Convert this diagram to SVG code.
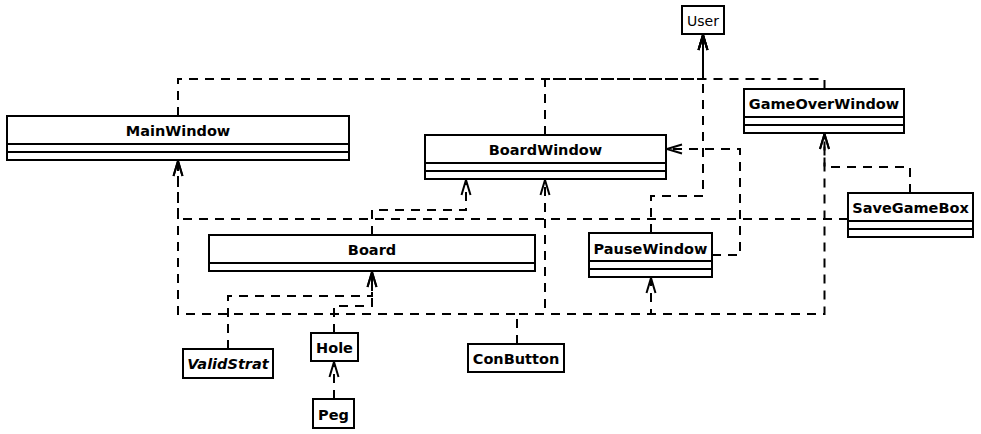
<svg xmlns="http://www.w3.org/2000/svg" width="981" height="434" viewBox="0 0 981 434">
  <style>
    .box { fill: #ffffff; stroke: #000000; stroke-width: 2; }
    .sep { stroke: #000000; stroke-width: 2; fill: none; }
    .name { font-family: "DejaVu Sans", "Liberation Sans", sans-serif; font-size: 14.5px; font-weight: bold; fill: #000000; text-anchor: middle; }
    .plain { font-family: "DejaVu Sans", "Liberation Sans", sans-serif; font-size: 14px; fill: #000000; text-anchor: middle; }
    .ital { font-style: italic; }
    .dep { fill: none; stroke: #000000; stroke-width: 2; stroke-dasharray: 9 7; marker-end: url(#open); }
  </style>
  <defs>
    <marker id="open" markerUnits="userSpaceOnUse" markerWidth="20" markerHeight="14" viewBox="-17 -7 20 14" refX="0" refY="0" orient="auto" overflow="visible">
      <path d="M-15,-4.5 L0,0 L-15,4.5" fill="none" stroke="#000000" stroke-width="2" stroke-dasharray="none"/>
    </marker>
  </defs>

  <rect width="981" height="434" fill="#ffffff"/>

  <g id="connectors">
    <path class="dep" d="M178,116 V79 H703 V35"/>
    <path class="dep" d="M545,135 V79 H703 V35"/>
    <path class="dep" d="M824.5,89 V79 H703 V35"/>
    <path class="dep" d="M651,233 V196 H703 V35"/>
    <path class="dep" d="M848,219 H178 V161"/>
    <path class="dep" d="M517,344 V314 H178 V161"/>
    <path class="dep" d="M517,344 V314 H545 V180"/>
    <path class="dep" d="M517,344 V314 H651 V278"/>
    <path class="dep" d="M517,344 V314 H824.5 V134"/>
    <path class="dep" d="M712,255 H740 V149 H667"/>
    <path class="dep" d="M910,193 V167 H824.5 V134"/>
    <path class="dep" d="M372,235 V210 H466 V180"/>
    <path class="dep" d="M228,349 V296 H372 V272"/>
    <path class="dep" d="M334,333 V306 H372 V272"/>
    <path class="dep" d="M334,399 V362"/>
  </g>

  <g id="User">
    <rect class="box" x="682" y="6" width="42" height="28"/>
    <text class="plain" x="703" y="26">User</text>
  </g>

  <g id="MainWindow">
    <rect class="box" x="7" y="116" width="342" height="44"/>
    <path class="sep" d="M7,144 H349 M7,152 H349"/>
    <text class="name" x="178" y="136">MainWindow</text>
  </g>

  <g id="BoardWindow">
    <rect class="box" x="425" y="135" width="241" height="44"/>
    <path class="sep" d="M425,163 H666 M425,171 H666"/>
    <text class="name" x="545.5" y="155">BoardWindow</text>
  </g>

  <g id="GameOverWindow">
    <rect class="box" x="744" y="89" width="160" height="44"/>
    <path class="sep" d="M744,117 H904 M744,125 H904"/>
    <text class="name" x="824" y="109">GameOverWindow</text>
  </g>

  <g id="SaveGameBox">
    <rect class="box" x="848" y="193" width="125" height="44"/>
    <path class="sep" d="M848,221 H973 M848,229 H973"/>
    <text class="name" x="910.5" y="213">SaveGameBox</text>
  </g>

  <g id="PauseWindow">
    <rect class="box" x="589" y="233" width="123" height="44"/>
    <path class="sep" d="M589,261 H712 M589,269 H712"/>
    <text class="name" x="650.5" y="254">PauseWindow</text>
  </g>

  <g id="Board">
    <rect class="box" x="209" y="235" width="326" height="36"/>
    <path class="sep" d="M209,263 H535"/>
    <text class="name" x="372" y="255">Board</text>
  </g>

  <g id="ValidStrat">
    <rect class="box" x="183" y="349" width="90" height="29"/>
    <text class="name ital" x="228" y="368.5">ValidStrat</text>
  </g>

  <g id="Hole">
    <rect class="box" x="311" y="333" width="47" height="28"/>
    <text class="name" x="334.5" y="352.5">Hole</text>
  </g>

  <g id="Peg">
    <rect class="box" x="313" y="399" width="41" height="29"/>
    <text class="name" x="333.5" y="420">Peg</text>
  </g>

  <g id="ConButton">
    <rect class="box" x="468" y="344" width="96" height="28"/>
    <text class="name" x="516" y="364">ConButton</text>
  </g>
</svg>
